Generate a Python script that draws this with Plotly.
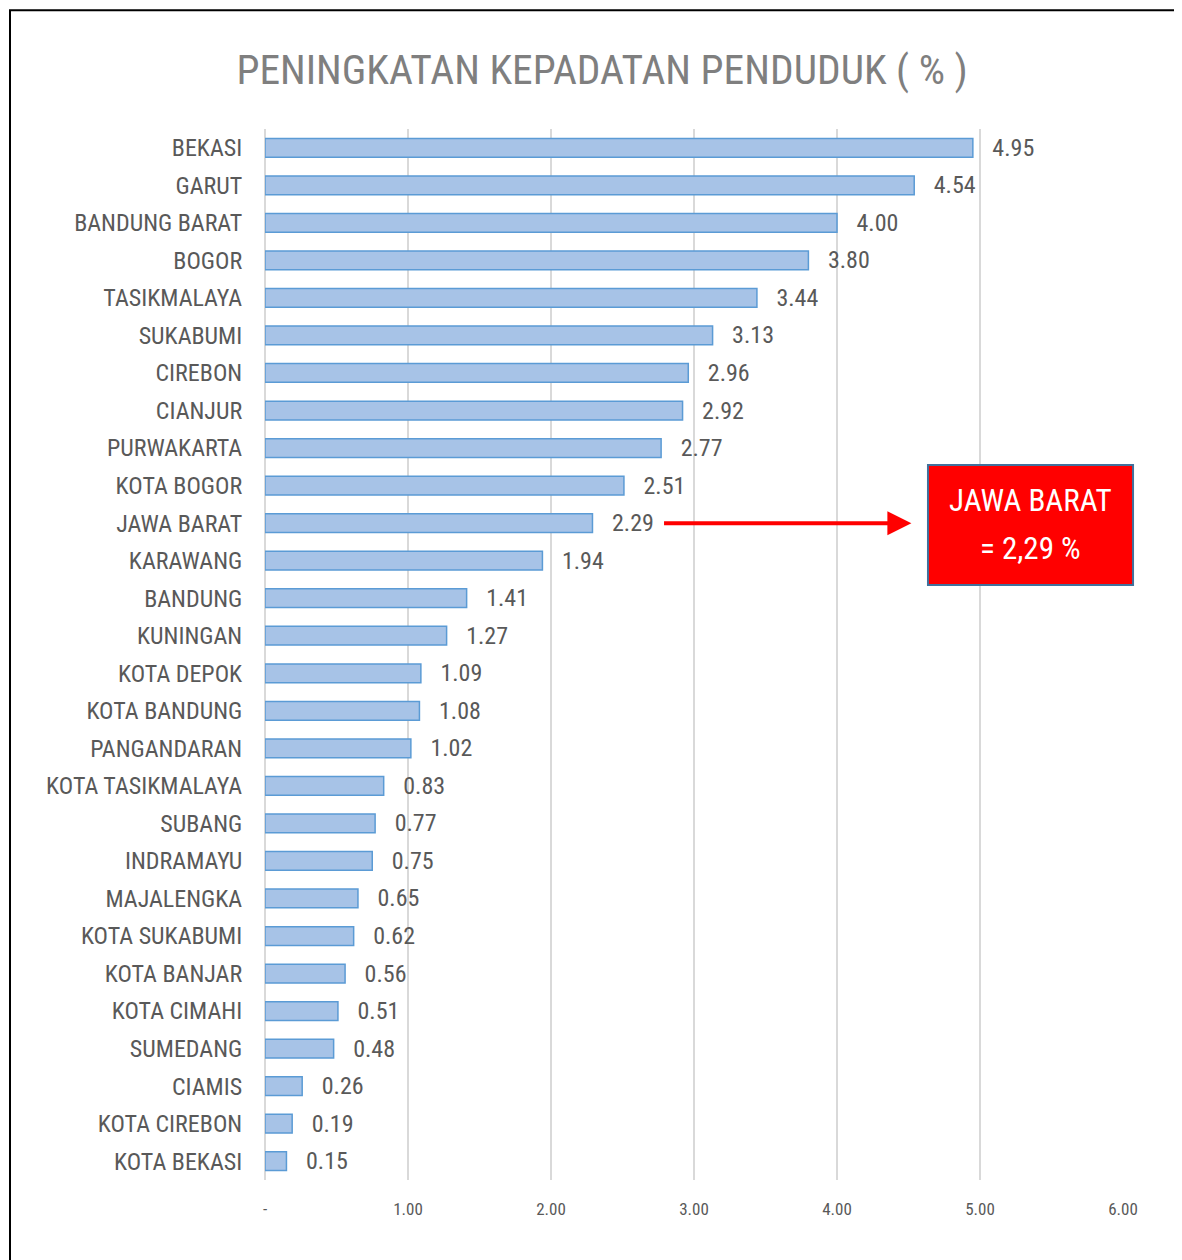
import plotly.graph_objects as go

categories = ["BEKASI", "GARUT", "BANDUNG BARAT", "BOGOR", "TASIKMALAYA", "SUKABUMI",
              "CIREBON", "CIANJUR", "PURWAKARTA", "KOTA BOGOR", "JAWA BARAT", "KARAWANG",
              "BANDUNG", "KUNINGAN", "KOTA DEPOK", "KOTA BANDUNG", "PANGANDARAN",
              "KOTA TASIKMALAYA", "SUBANG", "INDRAMAYU", "MAJALENGKA", "KOTA SUKABUMI",
              "KOTA BANJAR", "KOTA CIMAHI", "SUMEDANG", "CIAMIS", "KOTA CIREBON", "KOTA BEKASI"]
values = [4.95, 4.54, 4.00, 3.80, 3.44, 3.13, 2.96, 2.92, 2.77, 2.51, 2.29, 1.94,
          1.41, 1.27, 1.09, 1.08, 1.02, 0.83, 0.77, 0.75, 0.65, 0.62, 0.56, 0.51,
          0.48, 0.26, 0.19, 0.15]
tick_vals = [0, 1, 2, 3, 4, 5, 6]
tick_text = ["-", "1.00", "2.00", "3.00", "4.00", "5.00", "6.00"]
title_text = "PENINGKATAN KEPADATAN PENDUDUK ( % )"
box_line1 = "JAWA BARAT"
box_line2 = "= 2,29 %"
arrow_start, arrow_end = 2.78, 4.52

FONT = "Liberation Sans Narrow, Arial Narrow, Roboto Condensed, Liberation Sans, sans-serif"
GRAY = "#595959"

fig = go.Figure()
fig.add_trace(go.Bar(
    x=values, y=categories, orientation="h",
    marker=dict(color="#a7c3e7", line=dict(color="#5b9bd5", width=1.5)),
    text=["\u00a0\u00a0\u00a0" + f"{v:.2f}" for v in values],
    textposition="outside", cliponaxis=False, constraintext="none",
    textfont=dict(family=FONT, size=24, color=GRAY),
    hoverinfo="skip",
))

fig.update_layout(
    width=1174, height=1252,
    paper_bgcolor="white", plot_bgcolor="white",
    margin=dict(l=257, r=59, t=121, b=80),
    bargap=0.5,
    showlegend=False,
    title=dict(text=title_text, x=0.506, xanchor="center", y=0.9505, yanchor="middle",
               font=dict(family=FONT, size=41.5, color="#7f7f7f")),
    xaxis=dict(range=[0, 6], tickvals=tick_vals, ticktext=tick_text,
               showgrid=True, gridcolor="#d9d9d9", gridwidth=1.5,
               zeroline=True, zerolinecolor="#d9d9d9", zerolinewidth=1.5,
               showline=False, ticks="outside", ticklen=14, tickcolor="rgba(0,0,0,0)",
               tickfont=dict(family=FONT, size=17, color=GRAY)),
    yaxis=dict(categoryorder="array", categoryarray=categories, autorange="reversed",
               showgrid=False, showline=False, ticks="outside", ticklen=17,
               tickcolor="rgba(0,0,0,0)",
               tickfont=dict(family=FONT, size=24, color=GRAY)),
    shapes=[
        dict(type="rect", xref="paper", yref="paper",
             x0=-0.2972, x1=1.2, y0=-0.2, y1=1.113,
             line=dict(color="black", width=2), fillcolor="rgba(0,0,0,0)", layer="below"),
        dict(type="rect", xref="paper", yref="paper",
             x0=0.7727, x1=1.0117, y0=0.5661, y1=0.6803,
             line=dict(color="#41719c", width=2), fillcolor="#ff0000"),
    ],
    annotations=[
        dict(x=arrow_end, y="JAWA BARAT", ax=arrow_start, ay="JAWA BARAT",
             xref="x", yref="y", axref="x", ayref="y", text="",
             showarrow=True, arrowhead=2, arrowsize=1.2, arrowwidth=4, arrowcolor="#ff0000"),
        dict(x=0.8922, y=0.647, xref="paper", yref="paper", xanchor="center",
             yanchor="middle", text=box_line1, showarrow=False,
             font=dict(family=FONT, size=31, color="white")),
        dict(x=0.8922, y=0.6013, xref="paper", yref="paper", xanchor="center",
             yanchor="middle", text=box_line2, showarrow=False,
             font=dict(family=FONT, size=31, color="white")),
    ],
)

fig.write_html("out.html")
